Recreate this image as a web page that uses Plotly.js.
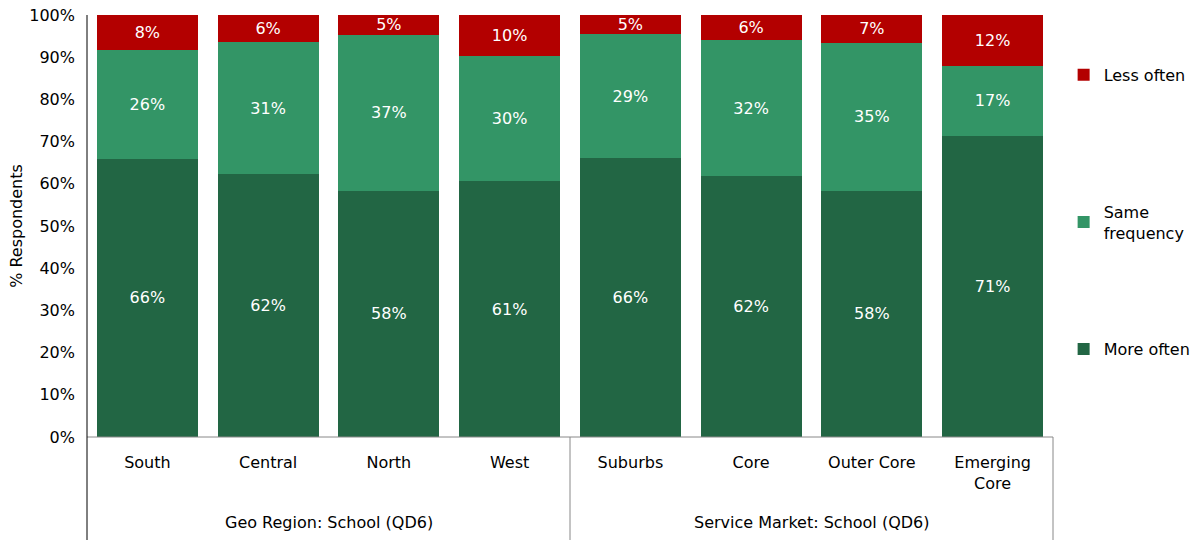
<!DOCTYPE html>
<html>
<head>
<meta charset="utf-8">
<script src="https://cdn.plot.ly/plotly-3.0.1.min.js"></script>
<style>html,body{margin:0;padding:0;background:#fff;}#chart{width:1197px;height:540px;}</style>
</head>
<body>
<div id="chart"></div>
<script>
// Data
const categories = ['South', 'Central', 'North', 'West', 'Suburbs', 'Core', 'Outer Core', 'Emerging<br>Core'];
const groups = ['Geo Region: School (QD6)', 'Service Market: School (QD6)'];
const groupSizes = [4, 4];
const moreOften = [65.9, 62.3, 58.3, 60.6, 66.1, 61.8, 58.3, 71.4];
const sameFrequency = [25.8, 31.3, 37.0, 29.7, 29.3, 32.3, 35.1, 16.6];
const lessOften = [8.3, 6.4, 4.7, 9.7, 4.6, 5.9, 6.6, 12.0];
const seriesNames = ['More often', 'Same<br>frequency', 'Less often'];
const yTicks = [0, 10, 20, 30, 40, 50, 60, 70, 80, 90, 100];

const FONT = 'DejaVu Sans, sans-serif';
const colors = ['#226644', '#339566', '#B30000'];
const seriesValues = [moreOften, sameFrequency, lessOften];
const legendIds = ['legend3', 'legend2', 'legend'];

const traces = seriesValues.map((vals, i) => ({
  type: 'bar',
  name: seriesNames[i],
  x: categories,
  y: vals,
  marker: {color: colors[i], line: {width: 0}},
  texttemplate: '%{y:.0f}%',
  textposition: 'inside',
  insidetextanchor: 'middle',
  textfont: {family: FONT, size: 16, color: '#ffffff'},
  hoverinfo: 'none',
  legend: legendIds[i],
  cliponaxis: false
}));

// plot area pixel geometry
const L = 87, R = 144, T = 15, B = 103;
const plotH = 540 - T - B;
const bottomPaper = -B / plotH;

const shapes = [];
const annotations = [];
// horizontal axis line
shapes.push({type: 'line', xref: 'paper', yref: 'paper', x0: 0, x1: 1, y0: 0, y1: 0, line: {color: '#888888', width: 1}});
// dividers
let start = 0;
const nCat = categories.length;
const divs = [0];
groupSizes.forEach((n, gi) => {
  const mid = (start + start + n) / 2 / nCat;
  annotations.push({xref: 'paper', yref: 'paper', x: mid, xanchor: 'center', y: bottomPaper, yanchor: 'bottom', yshift: 6,
    text: groups[gi], showarrow: false, font: {family: FONT, size: 16, color: '#000'}});
  start += n;
  divs.push(start / nCat);
});
divs.forEach((d, i) => {
  shapes.push({type: 'line', xref: 'paper', yref: 'paper', x0: d, x1: d, y0: i === 0 ? 1 : 0, y1: bottomPaper,
    line: {color: i === 0 ? '#000000' : '#888888', width: 1}});
});

const legendBase = {xanchor: 'left', yanchor: 'middle', x: 1.011, bgcolor: 'rgba(0,0,0,0)',
  font: {family: FONT, size: 16, color: '#000'}, borderwidth: 0};

const layout = {
  width: 1197, height: 540,
  margin: {l: L, r: R, t: T, b: B, pad: 0, autoexpand: false},
  paper_bgcolor: '#ffffff', plot_bgcolor: '#ffffff',
  barmode: 'stack', bargap: 0.165,
  font: {family: FONT, size: 16, color: '#000'},
  uniformtext: {mode: 'show', minsize: 16},
  xaxis: {type: 'category', showline: false, showgrid: false, zeroline: false, ticks: '', automargin: false,
    tickfont: {family: FONT, size: 16, color: '#000'}, ticklabelstandoff: 14, fixedrange: true},
  yaxis: {range: [0, 100], tickvals: yTicks, ticktext: yTicks.map(v => v + '%'), showgrid: false, zeroline: false,
    showline: false, ticks: '', ticklabelstandoff: 11, automargin: false,
    tickfont: {family: FONT, size: 16, color: '#000'},
    title: {text: '% Respondents', font: {family: FONT, size: 16, color: '#000'}, standoff: 2}},
  legend: Object.assign({}, legendBase, {y: 0.858}),
  legend2: Object.assign({}, legendBase, {y: 0.509}),
  legend3: Object.assign({}, legendBase, {y: 0.2085}),
  shapes: shapes,
  annotations: annotations,
  showlegend: true
};

Plotly.newPlot('chart', traces, layout, {displayModeBar: false, staticPlot: true});
</script>
</body>
</html>
